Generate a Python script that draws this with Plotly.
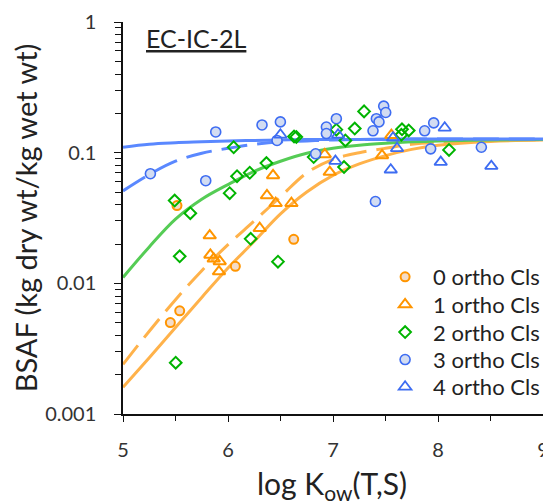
import plotly.graph_objects as go

# ---- data ----
x_o0 = [5.514, 5.451, 5.540, 6.070, 6.626]
y_o0 = [0.0394, 0.00501, 0.00616, 0.0135, 0.0217]

x_o1 = [5.826, 5.832, 5.864, 5.921, 5.914, 6.302, 6.371, 6.429, 6.454, 6.604, 6.921, 6.969, 7.467, 7.556]
y_o1 = [0.0232, 0.0165, 0.0154, 0.0147, 0.0123, 0.0264, 0.047, 0.067, 0.041, 0.041, 0.097, 0.071, 0.0953, 0.136]

x_o2 = [5.492, 5.502, 5.540, 5.641, 6.016, 6.054, 6.086, 6.207, 6.216, 6.366, 6.476, 6.629, 6.651,
        6.816, 7.032, 7.118, 7.105, 7.207, 7.296, 7.657, 7.651, 7.721, 8.105]
y_o2 = [0.043, 0.00247, 0.0161, 0.0344, 0.049, 0.110, 0.066, 0.0702, 0.0219, 0.0832, 0.01465, 0.133, 0.132,
        0.0925, 0.150, 0.124, 0.0776, 0.153, 0.207, 0.151, 0.137, 0.148, 0.105]

x_o3 = [5.261, 5.788, 5.883, 6.324, 6.499, 6.467, 6.835, 6.937, 6.937, 7.032, 7.381, 7.404, 7.413,
        7.438, 7.483, 7.502, 7.873, 7.959, 7.930, 8.413]
y_o3 = [0.069, 0.061, 0.144, 0.163, 0.172, 0.124, 0.098, 0.157, 0.140, 0.182, 0.147, 0.0423, 0.182,
        0.172, 0.227, 0.203, 0.147, 0.169, 0.107, 0.110]

x_o4 = [6.499, 7.048, 7.023, 7.550, 7.572, 7.610, 8.026, 8.064, 8.508]
y_o4 = [0.137, 0.137, 0.0862, 0.074, 0.130, 0.108, 0.0847, 0.155, 0.0789]

# model curves
curve_x = [5.0, 5.25, 5.5, 5.75, 6.0, 6.25, 6.5, 6.75, 7.0, 7.25, 7.5, 7.75, 8.0, 8.5, 9.0]
orange_solid = [0.0016, 0.0027, 0.0046, 0.0078, 0.0131, 0.021, 0.034, 0.050, 0.067, 0.082, 0.095, 0.106, 0.114, 0.122, 0.125]
orange_dash = [0.0024, 0.0043, 0.0075, 0.0125, 0.0198, 0.030, 0.046, 0.070, 0.089, 0.100, 0.108, 0.116, 0.120, 0.124, 0.126]
green_solid = [0.0111, 0.019, 0.031, 0.044, 0.057, 0.072, 0.086, 0.099, 0.108, 0.114, 0.118, 0.121, 0.123, 0.125, 0.126]
blue_solid = [0.110, 0.116, 0.119, 0.121, 0.123, 0.124, 0.125, 0.126, 0.126, 0.126, 0.127, 0.127, 0.127, 0.127, 0.127]
blue_dash = [0.051, 0.068, 0.086, 0.099, 0.108, 0.116, 0.121, 0.123, 0.125, 0.126, 0.126, 0.127, 0.127, 0.127, 0.127]

series_names = ["0 ortho Cls", "1 ortho Cls", "2 ortho Cls", "3 ortho Cls", "4 ortho Cls"]
x_ticks = [5, 6, 7, 8, 9]
y_ticks = [0.001, 0.01, 0.1, 1]
y_ticktext = ["0.001", "0.01", "0.1", "1"]
x_title = "log K<sub>ow</sub>(T,S)"
y_title = "BSAF (kg dry wt/kg wet wt)"
panel_label = "EC-IC-2L"

FONT = "Lato"
ORANGE_LINE = "#FFB24A"
ORANGE_MK = "#FF9500"
GREEN_LINE = "#55CC55"
GREEN_MK = "#00B400"
BLUE_LINE = "#5A88FF"
BLUE_MK = "#3D6CF2"

fig = go.Figure()

def curve(y, color, dash):
    fig.add_trace(go.Scatter(x=curve_x, y=y, mode="lines", showlegend=False, hoverinfo="skip",
                             line=dict(color=color, width=3, dash=dash, shape="spline")))

curve(orange_solid, ORANGE_LINE, "solid")
curve(orange_dash, ORANGE_LINE, "24px,10px")
curve(green_solid, GREEN_LINE, "solid")
curve(blue_dash, BLUE_LINE, "26px,10px")
curve(blue_solid, BLUE_LINE, "solid")

fig.add_trace(go.Scatter(x=x_o0, y=y_o0, mode="markers", name=series_names[0], legend="legend",
                         marker=dict(symbol="circle", size=9, color="#F4DCC8",
                                     line=dict(color=ORANGE_MK, width=2))))
fig.add_trace(go.Scatter(x=x_o1, y=y_o1, mode="markers", name=series_names[1], legend="legend2",
                         marker=dict(symbol="triangle-up-open", size=11, color=ORANGE_MK,
                                     line=dict(color=ORANGE_MK, width=2))))
fig.add_trace(go.Scatter(x=x_o2, y=y_o2, mode="markers", name=series_names[2], legend="legend3",
                         marker=dict(symbol="diamond-open", size=9, color=GREEN_MK,
                                     line=dict(color=GREEN_MK, width=2))))
fig.add_trace(go.Scatter(x=x_o3, y=y_o3, mode="markers", name=series_names[3], legend="legend4",
                         marker=dict(symbol="circle", size=10, color="#D2DCF2",
                                     line=dict(color=BLUE_MK, width=1.6))))
fig.add_trace(go.Scatter(x=x_o4, y=y_o4, mode="markers", name=series_names[4], legend="legend5",
                         marker=dict(symbol="triangle-up-open", size=11, color=BLUE_MK,
                                     line=dict(color=BLUE_MK, width=1.8))))

legend_style = dict(x=0.605, xanchor="left", yanchor="top", bgcolor="rgba(0,0,0,0)",
                    font=dict(size=22, family=FONT, color="#222222"), itemwidth=46)
legend_rows_y = [0.403, 0.3325, 0.262, 0.192, 0.1225]

# the page body adds an 8px offset, so the figure is 8px smaller on each axis
fig.update_layout(
    width=543, height=493,
    margin=dict(l=115, r=8, t=14, b=87, autoexpand=False),
    plot_bgcolor="white", paper_bgcolor="white",
    font=dict(family=FONT, color="#222222"),
    showlegend=True,
    legend=dict(y=legend_rows_y[0], **legend_style),
    legend2=dict(y=legend_rows_y[1], **legend_style),
    legend3=dict(y=legend_rows_y[2], **legend_style),
    legend4=dict(y=legend_rows_y[3], **legend_style),
    legend5=dict(y=legend_rows_y[4], **legend_style),
    xaxis=dict(range=[5, 9], tickvals=x_ticks, ticks="outside", ticklen=6, tickwidth=1.3,
               tickcolor="#111", showline=True, linecolor="#111", linewidth=1.5,
               showgrid=False, zeroline=False, automargin=False, ticklabelstandoff=11,
               tickfont=dict(size=20, family=FONT, color="#333333"),
               minor=dict(dtick=0.5, ticks="outside", ticklen=5, tickcolor="#111", showgrid=False)),
    yaxis=dict(type="log", range=[-3, 0], tickvals=y_ticks, ticktext=y_ticktext, ticks="outside",
               ticklen=7, tickwidth=1.3, tickcolor="#111", showline=True, linecolor="#111",
               linewidth=1.5, showgrid=False, zeroline=False, automargin=False,
               ticklabelstandoff=14,
               tickfont=dict(size=20, family=FONT, color="#333333"),
               minor=dict(dtick="D1", ticks="outside", ticklen=6, tickcolor="#111", showgrid=False),
               title=dict(text=y_title, font=dict(size=29, family=FONT, color="#222222"),
                          standoff=11)),
)

fig.add_annotation(x=0.4988, y=-0.124, xref="paper", yref="paper", xanchor="center", yanchor="top",
                   text=x_title, showarrow=False,
                   font=dict(size=30, family=FONT, color="#222222"))

fig.add_annotation(x=0.05, y=0.96, xref="paper", yref="paper", xanchor="left", yanchor="middle",
                   text="<u>" + panel_label + "</u>", showarrow=False,
                   font=dict(size=25, family=FONT, color="#222222"))

fig.write_html("out.html")
